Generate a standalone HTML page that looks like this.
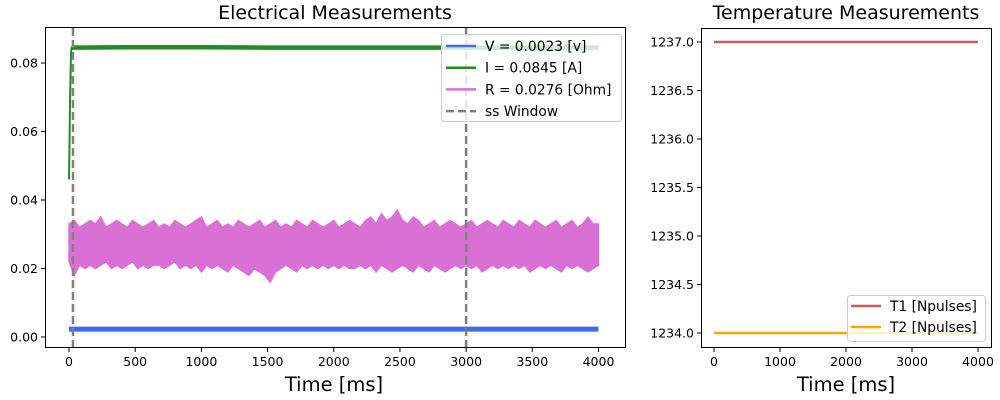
<!DOCTYPE html>
<html><head><meta charset="utf-8">
<style>
body{margin:0;background:#fff;}
svg{display:block;font-family:"DejaVu Sans","Liberation Sans",sans-serif;}
</style></head>
<body>
<svg id="chart" width="1000" height="400" viewBox="0 0 1000 400">
<rect width="1000" height="400" fill="#fff"/>
<g id="left"></g>
<g id="right"></g>
</svg>
<script>
// ----- Electrical data -----
const rTimes = [0,40,80,120,160,200,240,280,320,360,400,440,480,520,560,600,640,680,720,760,800,840,880,920,960,1000,1040,1080,1120,1160,1200,1240,1280,1320,1360,1400,1440,1480,1520,1560,1600,1640,1680,1720,1760,1800,1840,1880,1920,1960,2000,2040,2080,2120,2160,2200,2240,2280,2320,2360,2400,2440,2480,2520,2560,2600,2640,2680,2720,2760,2800,2840,2880,2920,2960,3000,3040,3080,3120,3160,3200,3240,3280,3320,3360,3400,3440,3480,3520,3560,3600,3640,3680,3720,3760,3800,3840,3880,3920,3960,4000];
const rUpper = [0.033,0.034,0.032,0.033,0.034,0.033,0.035,0.032,0.033,0.034,0.033,0.032,0.034,0.033,0.032,0.033,0.034,0.032,0.033,0.032,0.034,0.033,0.032,0.033,0.034,0.035,0.032,0.033,0.034,0.032,0.033,0.032,0.034,0.033,0.032,0.033,0.034,0.032,0.033,0.034,0.032,0.033,0.032,0.034,0.033,0.032,0.034,0.033,0.032,0.033,0.034,0.032,0.033,0.034,0.033,0.032,0.034,0.035,0.033,0.036,0.034,0.035,0.037,0.034,0.033,0.035,0.034,0.032,0.033,0.034,0.032,0.033,0.034,0.033,0.032,0.033,0.034,0.032,0.033,0.034,0.033,0.032,0.034,0.033,0.032,0.034,0.033,0.032,0.034,0.033,0.032,0.033,0.034,0.032,0.033,0.034,0.032,0.033,0.035,0.033,0.033];
const rLower = [0.022,0.018,0.021,0.020,0.021,0.020,0.021,0.022,0.020,0.021,0.020,0.021,0.022,0.020,0.021,0.020,0.021,0.021,0.020,0.021,0.022,0.020,0.021,0.020,0.021,0.019,0.021,0.020,0.021,0.020,0.019,0.021,0.020,0.019,0.018,0.020,0.019,0.018,0.016,0.019,0.020,0.021,0.020,0.019,0.021,0.020,0.021,0.020,0.021,0.020,0.021,0.020,0.021,0.020,0.020,0.021,0.020,0.021,0.019,0.021,0.020,0.019,0.020,0.021,0.020,0.019,0.021,0.020,0.019,0.021,0.020,0.019,0.020,0.021,0.020,0.021,0.020,0.021,0.019,0.020,0.021,0.020,0.021,0.020,0.021,0.020,0.021,0.019,0.020,0.021,0.020,0.021,0.020,0.019,0.021,0.020,0.021,0.020,0.019,0.020,0.021];
const iTimes = [0,8,15,20,25,500,1000,1500,2000,2500,3000,3500,4000];
const iValues = [0.046,0.070,0.083,0.0845,0.0845,0.0846,0.0846,0.0845,0.0845,0.0845,0.0845,0.0845,0.0845];
const vTimes = [0,1000,2000,3000,4000];
const vValues = [0.0023,0.0023,0.0023,0.0023,0.0023];
const ssWindow = [30,3000];
const leftXTicks = [0,500,1000,1500,2000,2500,3000,3500,4000];
const leftYTicks = [0.00,0.02,0.04,0.06,0.08];
const legendLabels = ["V  = 0.0023 [v]","I = 0.0845 [A]","R = 0.0276 [Ohm]","ss Window"];
// ----- Temperature data -----
const tTimes = [0,4000];
const t1Values = [1237,1237];
const t2Values = [1234,1234];
const rightXTicks = [0,1000,2000,3000,4000];
const rightYTicks = [1234.0,1234.5,1235.0,1235.5,1236.0,1236.5,1237.0];

const NS="http://www.w3.org/2000/svg";
function el(parent,tag,attrs,text){const e=document.createElementNS(NS,tag);for(const k in attrs)e.setAttribute(k,attrs[k]);if(text!==undefined)e.textContent=text;parent.appendChild(e);return e;}

const L=document.getElementById('left');
const lx=v=>69+(v/4000)*529.5;
const ly=v=>337-(v/0.08)*274;
const pts=(xs,ys,fx,fy)=>xs.map((t,i)=>fx(t).toFixed(1)+','+fy(ys[i]).toFixed(1)).join(' ');

let p;
const bandPts=pts(rTimes,rUpper,lx,ly)+' '+rTimes.slice().reverse().map((t,i)=>lx(t).toFixed(1)+','+ly(rLower[rLower.length-1-i]).toFixed(1)).join(' ');
p=el(L,'polygon',{points:bandPts,fill:'#da70d6',stroke:'#da70d6','stroke-width':1.5});

p=el(L,'polyline',{points:pts(vTimes,vValues,lx,ly),fill:'none',stroke:'#4169e1','stroke-width':5});

p=el(L,'polyline',{points:pts(iTimes,iValues,lx,ly),fill:'none',stroke:'#228b22','stroke-width':2});

p=el(L,'polyline',{points:pts(iTimes.slice(3),iValues.slice(3),lx,ly),fill:'none',stroke:'#228b22','stroke-width':4.5});

ssWindow.forEach(t=>{
  const ln=el(L,'line',{x1:lx(t),x2:lx(t),y1:28,y2:348,stroke:'#808080','stroke-width':2.5,'stroke-dasharray':'8,4'});
  
});
const frameL=el(L,'rect',{x:45.5,y:27.5,width:580,height:320,fill:'none',stroke:'#000','stroke-width':1});

leftXTicks.forEach(t=>{
  el(L,'line',{x1:lx(t),x2:lx(t),y1:348,y2:352,stroke:'#000'});
  const tx=el(L,'text',{x:lx(t),y:366,'font-size':12.5,'text-anchor':'middle'},String(t));
  
});
leftYTicks.forEach(t=>{
  el(L,'line',{x1:41,x2:45,y1:ly(t),y2:ly(t),stroke:'#000'});
  const tx=el(L,'text',{x:38,y:ly(t)+4.5,'font-size':12.5,'text-anchor':'end'},t.toFixed(2));
  
});
let t=el(L,'text',{x:334,y:391,'font-size':19.5,'text-anchor':'middle'},'Time [ms]');

t=el(L,'text',{x:335,y:19,'font-size':19,'text-anchor':'middle'},'Electrical Measurements');

const lg=el(L,'g',{});

el(lg,'rect',{x:441.5,y:34.5,width:180,height:87,rx:3,fill:'#fff','fill-opacity':0.8,stroke:'#ccc'});
const lcol=['#4169e1','#228b22','#da70d6','#808080'];
legendLabels.forEach((s,i)=>{
  const y=46+i*21.7;
  el(lg,'line',{x1:446,x2:476,y1:y,y2:y,stroke:lcol[i],'stroke-width':2.5,'stroke-dasharray':i==3?'8,4':'none'});
  const e=el(lg,'text',{x:485,y:y+5,'font-size':13.8},s);
  
});

const R=document.getElementById('right');
const rx=v=>714+(v/4000)*264;
const ry=v=>333-(v-1234)*97;
p=el(R,'polyline',{points:pts(tTimes,t1Values,rx,ry),fill:'none',stroke:'#cd5c5c','stroke-width':2.5});

p=el(R,'polyline',{points:pts(tTimes,t2Values,rx,ry),fill:'none',stroke:'#ffa500','stroke-width':2.5});

const frameR=el(R,'rect',{x:701.5,y:28.5,width:290,height:319,fill:'none',stroke:'#000'});

rightXTicks.forEach(v=>{
  el(R,'line',{x1:rx(v),x2:rx(v),y1:348,y2:352,stroke:'#000'});
  const e=el(R,'text',{x:rx(v),y:366,'font-size':12.5,'text-anchor':'middle'},String(v));
  
});
rightYTicks.forEach(v=>{
  el(R,'line',{x1:697,x2:701,y1:ry(v),y2:ry(v),stroke:'#000'});
  const e=el(R,'text',{x:694,y:ry(v)+4.5,'font-size':12.5,'text-anchor':'end'},v.toFixed(1));
  
});
t=el(R,'text',{x:846,y:391,'font-size':19.5,'text-anchor':'middle'},'Time [ms]');

t=el(R,'text',{x:846,y:19,'font-size':19,'text-anchor':'middle'},'Temperature Measurements');

const lg2=el(R,'g',{});

el(lg2,'rect',{x:847.5,y:295.5,width:138,height:46,rx:3,fill:'#fff','fill-opacity':0.8,stroke:'#ccc'});
[['T1 [Npulses]','#cd5c5c'],['T2 [Npulses]','#ffa500']].forEach((a,i)=>{
  const y=306+i*21;
  el(lg2,'line',{x1:851,x2:881,y1:y,y2:y,stroke:a[1],'stroke-width':2.5});
  const e=el(lg2,'text',{x:890,y:y+5,'font-size':13.8},a[0]);
  
});
</script>
</body></html>
